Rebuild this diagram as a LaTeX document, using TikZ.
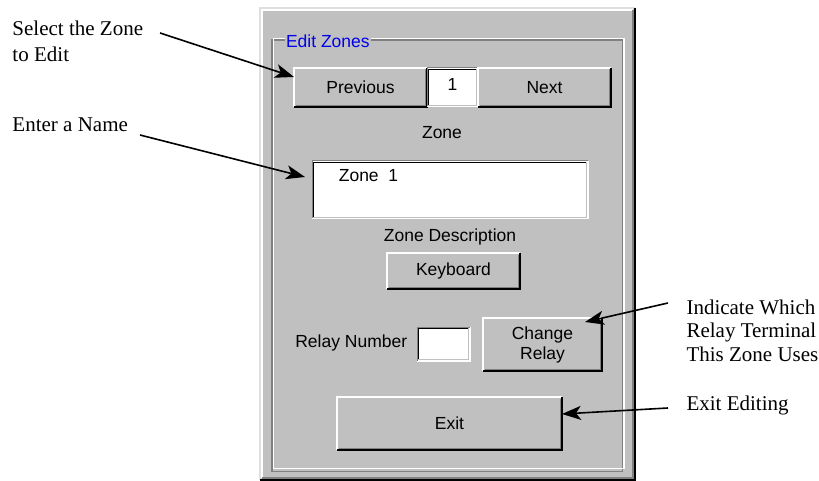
\documentclass[tikz,border=0pt]{standalone}
\usepackage{fontspec}
\setmainfont{Liberation Serif}
\newfontfamily\guifont{Liberation Sans}
\usetikzlibrary{arrows.meta}

\definecolor{winbg}{RGB}{192,192,192}
\definecolor{winshade}{RGB}{128,128,128}
\definecolor{winlight}{RGB}{223,223,223}
\definecolor{winblue}{RGB}{0,0,235}

% raised 3D edge round a named node
\newcommand\raisededge[1]{%
  \draw[white, line width=1.5pt] (#1.south west) |- (#1.north east);
  \draw[black, line width=1.5pt] (#1.south west) -| (#1.north east);
  \draw[winshade] ([shift={(1.5,-1.5)}]#1.south west) -| ([shift={(-1.5,1.5)}]#1.north east);
}
% sunken 3D edge round a named node
\newcommand\sunkenedge[1]{%
  \draw[winshade] (#1.south west) |- (#1.north east);
  \draw[white] (#1.south west) -| (#1.north east);
  \draw[black, line width=1.3pt] ([shift={(1.2,-1.2)}]#1.south west) |- ([shift={(-1.2,1.2)}]#1.north east);
  \draw[winbg] ([shift={(1.2,-1.2)}]#1.south west) -| ([shift={(-1.2,1.2)}]#1.north east);
}

\tikzset{
  gui/.style={font=\guifont\fontsize{17.5}{20}\selectfont, text=black},
  panel/.style={anchor=north west, inner sep=0pt, outer sep=0pt, fill=winbg},
  winbutton/.style={panel, gui, align=center},
  field/.style={anchor=north west, inner sep=0pt, outer sep=0pt, fill=white},
  note/.style={font=\fontsize{21}{26}\selectfont, inner sep=0pt, align=left},
  callout/.style={line width=1.6pt, -{Stealth[length=19pt,width=14pt,inset=5pt]}},
  every path/.style={line width=1pt},
}

\begin{document}
\begin{tikzpicture}[x=1pt, y=-1pt]
\useasboundingbox (0,0) rectangle (819,481);

% dialog window
\node[panel, minimum width=375pt, minimum height=472pt] (win) at (260,8) {};
\draw[winlight, line width=1.5pt] (win.south west) |- (win.north east);
\draw[black, line width=1.5pt] (win.south west) -| (win.north east);
\draw[white, line width=1.5pt] ([shift={(1.8,-1.8)}]win.south west) |- ([shift={(-1.8,1.8)}]win.north east);
\draw[winshade, line width=1.5pt] ([shift={(1.8,-1.8)}]win.south west) -| ([shift={(-1.8,1.8)}]win.north east);

% etched group frame with its caption
\node[anchor=north west, inner sep=0pt, minimum width=351pt, minimum height=429pt] (grp) at (272,40) {};
\draw[winshade, line width=1.3pt] (grp.north west) rectangle ([shift={(-1.5,1.5)}]grp.south east);
\draw[white, line width=1.3pt] ([shift={(1.5,-1.5)}]grp.south west) -| (grp.north east);
\draw[white, line width=1.3pt] ([shift={(1.5,-1.5)}]grp.south west) |- ([shift={(1.5,-1.5)}]grp.north west) -| ([shift={(0,1.5)}]grp.north east);
\node[anchor=west, fill=winbg, inner xsep=1.5pt, inner ysep=0pt, gui, text=winblue] (cap) at (284,41) {Edit Zones};

% zone selector
\node[winbutton, minimum width=133pt, minimum height=39pt] (prev) at (294,68) {Previous};
\raisededge{prev}
\node[field, minimum width=51pt, minimum height=39pt] (num) at (427,68) {};
\sunkenedge{num}
\node[gui] (numtxt) at ([yshift=3pt]num.center) {1};
\node[winbutton, minimum width=133pt, minimum height=39pt] (next) at (478,68) {Next};
\raisededge{next}
\node[gui] (zonelbl) at (442,133) {Zone};

% zone description field
\node[field, minimum width=276pt, minimum height=58pt] (desc) at (312,161) {};
\sunkenedge{desc}
\node[gui, anchor=west] (desctxt) at (335,176) {Zone\ \ 1};
\node[gui] (desclbl) at (450,237) {Zone Description};
\node[winbutton, minimum width=133pt, minimum height=36pt] (kbd) at (387,253) {Keyboard};
\raisededge{kbd}

% relay selection
\node[gui, anchor=east] (relaylbl) at (411,343) {Relay Number};
\node[field, minimum width=53pt, minimum height=34pt] (relay) at (417,327) {};
\sunkenedge{relay}
\node[winbutton, minimum width=119pt, minimum height=53pt] (chg) at (483,318) {Change\\Relay};
\raisededge{chg}

% exit
\node[winbutton, minimum width=225pt, minimum height=53pt] (exit) at (337,397) {Exit};
\raisededge{exit}

% annotations (multi-line notes are placed by the baseline of their last line)
\node[note, anchor=base west] (n1) at (12,62) {Select the Zone\\to Edit};
\node[note, anchor=base west] (n2) at (12,132) {Enter a Name};
\node[note, anchor=base west, font=\fontsize{21}{23.5}\selectfont] (n3) at (686,361) {Indicate Which\\Relay Terminal\\This Zone Uses};
\node[note, anchor=base west] (n4) at (686,410) {Exit Editing};

\coordinate (s1) at (160,33);
\coordinate (s2) at (140,135);
\coordinate (s3) at (668,303);
\coordinate (s4) at (668,408);

\draw[callout] (s1) -- ([yshift=-9pt]prev.north west);
\draw[callout] (s2) -- ([shift={(-7pt,-16pt)}]desc.north west);
\draw[callout] (s3) -- ([shift={(-17pt,-4pt)}]chg.north east);
\draw[callout] (s4) -- ([yshift=-17pt]exit.north east);
\end{tikzpicture}
\end{document}
